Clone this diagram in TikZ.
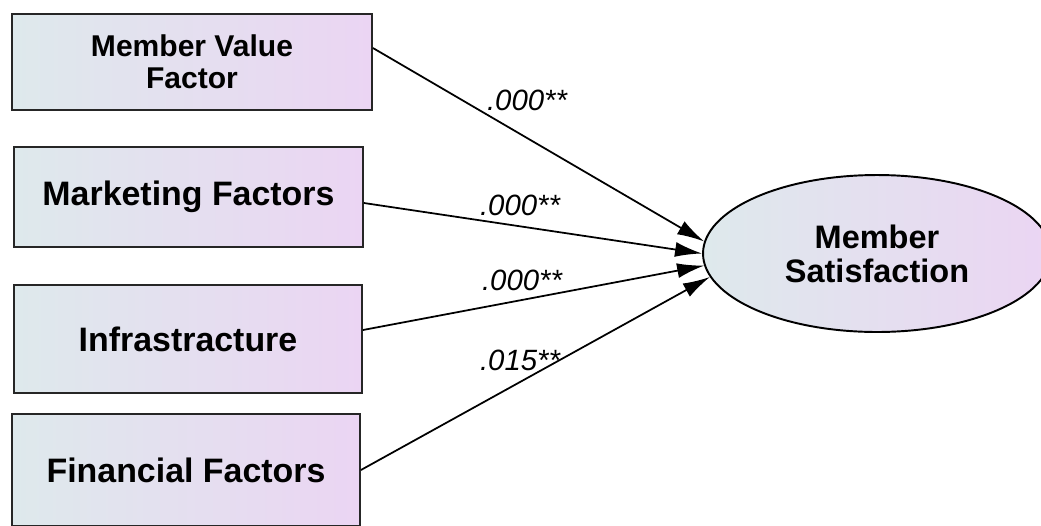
\documentclass[tikz,border=0pt]{standalone}
\usepackage{fontspec}
\setmainfont{Liberation Sans}
\usepackage{tikz}
\usetikzlibrary{arrows.meta,positioning,shapes.geometric}
\definecolor{boxleft}{RGB}{222,233,236}
\definecolor{boxright}{RGB}{235,213,243}

\begin{document}
\begin{tikzpicture}[x=0.02cm,y=-0.02cm,
    factor/.style={draw=black!85,line width=1.1pt,left color=boxleft,right color=boxright,
      inner sep=0pt,align=center,font=\bfseries\fontsize{19.3}{22}\selectfont},
    outcome/.style={ellipse,draw=black,line width=1.1pt,left color=boxleft,right color=boxright,
      inner sep=0pt,minimum width=6.96cm,minimum height=3.14cm,align=center,
      font=\bfseries\fontsize{18.5}{19.4}\selectfont},
    path/.style={line width=1pt,-{Latex[length=0.54cm,width=0.3cm]}},
    pval/.style={font=\itshape\fontsize{16.7}{18}\selectfont}]
    \path[use as bounding box,clip] (0,0) rectangle (1041,525);
    % boxes
    \node[factor,minimum width=7.2cm,minimum height=1.92cm,font=\bfseries\fontsize{17.1}{18.2}\selectfont]
      (value) at (192,62) {Member Value\\Factor};
    \node[factor,minimum width=6.98cm,minimum height=2cm]  (marketing) at (188.5,197) {Marketing Factors};
    \node[factor,minimum width=6.96cm,minimum height=2.16cm] (infra) at (188,339) {Infrastracture};
    \node[factor,minimum width=6.96cm,minimum height=2.24cm] (finance) at (186,470) {Financial Factors};
    \node[outcome] (satis) at (877,253.5) {Member\\Satisfaction};
    % paths
    \draw[path] ([yshift=0.28cm]value.east) -- (satis.176);
    \draw[path] ([yshift=-0.12cm]marketing.east) -- (satis.180);
    \draw[path] ([yshift=0.18cm]infra.east) -- (satis.184);
    \draw[path] (finance.east) -- (satis.188);
    % p-values
    \node[pval] (p1) at (527,100) {.000**};
    \node[pval] (p2) at (520,205) {.000**};
    \node[pval] (p3) at (522,280) {.000**};
    \node[pval] (p4) at (520,360) {.015**};
\end{tikzpicture}
\end{document}
